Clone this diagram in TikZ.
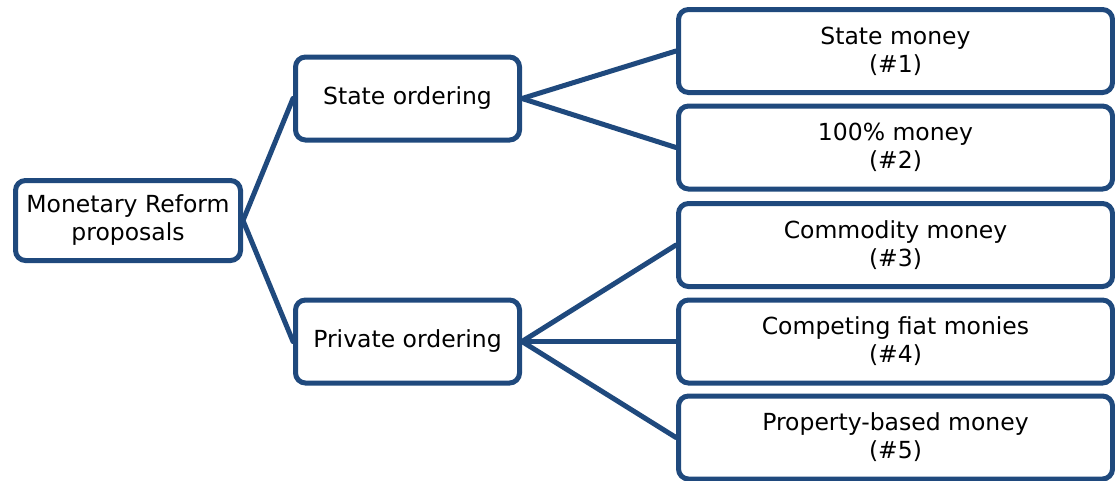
\documentclass[tikz,border=0pt]{standalone}
\usepackage{fontspec}
\setmainfont{DejaVu Sans}
\definecolor{treeblue}{RGB}{31,73,125}
\tikzset{
    reformbox/.style = {draw = treeblue, line width = 5pt, rounded corners = 10pt, fill = white,
        align = center, inner sep = 0pt, font = \fontsize{23.5}{28}\selectfont},
    rootbox/.style = {reformbox, minimum width = 225pt, minimum height = 80pt},
    midbox/.style = {reformbox, minimum width = 224pt, minimum height = 83pt},
    leafbox/.style = {reformbox, minimum width = 434pt, minimum height = 83pt},
    branch/.style = {draw = treeblue, line width = 5pt, line cap = round}
}
\begin{document}
\begin{tikzpicture}[x = 1pt, y = -1pt]
    \useasboundingbox (0,0) rectangle (1115,480);
    \node[rootbox] (root) at (128,220.5) {Monetary Reform\\proposals};
    \node[midbox] (state) at (407.5,98.5) {State ordering};
    \node[midbox] (private) at (407.5,341.5) {Private ordering};
    \node[leafbox] (m1) at (895.5,51) {State money\\(\#1)};
    \node[leafbox] (m2) at (895.5,147.5) {100\% money\\(\#2)};
    \node[leafbox] (m3) at (895.5,245) {Commodity money\\(\#3)};
    \node[leafbox] (m4) at (895.5,341.5) {Competing fiat monies\\(\#4)};
    \node[leafbox] (m5) at (895.5,437.5) {Property-based money\\(\#5)};
    \draw[branch] (root.east) -- (state.west);
    \draw[branch] (root.east) -- (private.west);
    \draw[branch] (state.east) -- (m1.west);
    \draw[branch] (state.east) -- (m2.west);
    \draw[branch] (private.east) -- (m3.west);
    \draw[branch] (private.east) -- (m4.west);
    \draw[branch] (private.east) -- (m5.west);
\end{tikzpicture}
\end{document}
